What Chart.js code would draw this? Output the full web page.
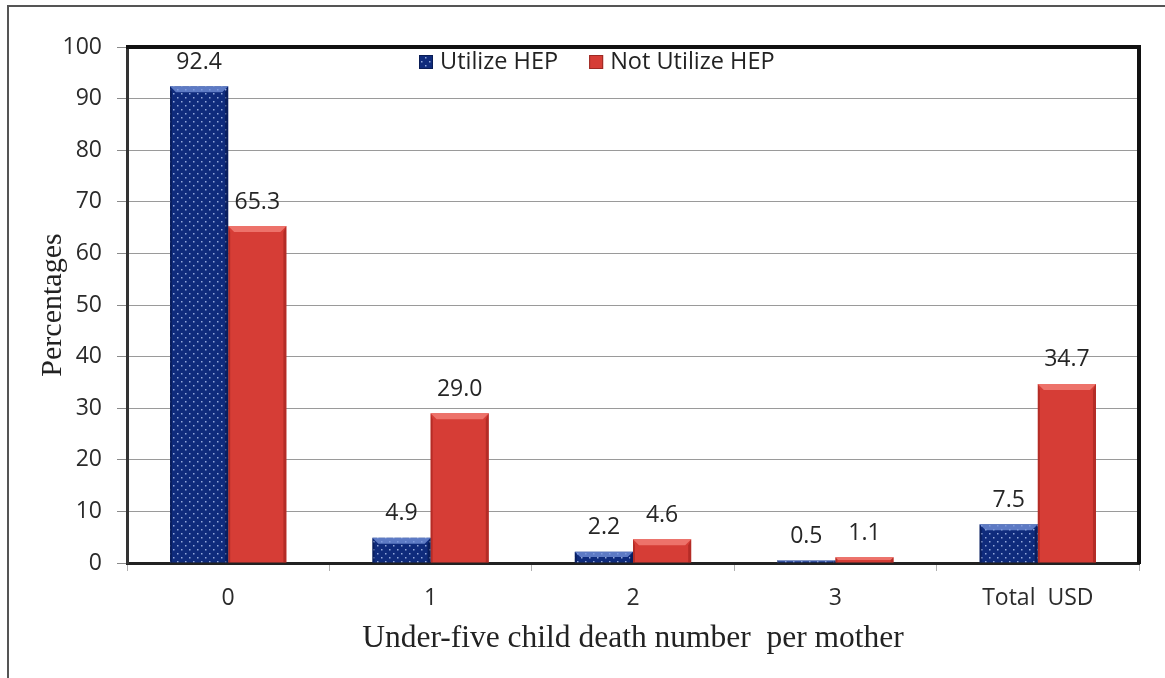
<!DOCTYPE html>
<html>
<head>
<meta charset="utf-8">
<title>Under-five child death number per mother</title>
<script src="https://cdn.jsdelivr.net/npm/chart.js@4.4.1/dist/chart.umd.min.js"></script>
<style>
  html, body { margin: 0; padding: 0; background: #fff; }
  canvas { display: block; }
</style>
</head>
<body>
<canvas id="chart" width="1165" height="678"></canvas>
<script>
// Categories: number of under-five deaths per mother
const categories = ['0', '1', '2', '3', 'Total  USD'];
// Percentages per group
const utilizeHEP = [92.4, 4.9, 2.2, 0.5, 7.5];
const notUtilizeHEP = [65.3, 29.0, 4.6, 1.1, 34.7];
const seriesNames = ['Utilize HEP', 'Not Utilize HEP'];
const yTickValues = [0, 10, 20, 30, 40, 50, 60, 70, 80, 90, 100];

const SANS = '"Open Sans", "Liberation Sans", sans-serif';
const SERIF = '"Liberation Serif", "DejaVu Serif", serif';

// Navy fill with a staggered grid of light dots
function dottedPattern() {
  const c = document.createElement('canvas');
  c.width = 8; c.height = 8;
  const g = c.getContext('2d');
  g.fillStyle = '#0f2b7c';
  g.fillRect(0, 0, 8, 8);
  g.fillStyle = 'rgba(170,190,235,0.85)';
  g.fillRect(1, 1, 1.5, 1.5);
  g.fillRect(5, 5, 1.5, 1.5);
  return g.createPattern(c, 'repeat');
}
const ctx0 = document.getElementById('chart').getContext('2d');
const bluePattern = dottedPattern();
const redFill = '#d63d36';

// Outer frame (top and left edge of the figure)
const framePlugin = {
  id: 'frame',
  beforeDraw(chart) {
    const c = chart.ctx;
    c.save();
    c.fillStyle = '#fff';
    c.fillRect(0, 0, chart.width, chart.height);
    c.strokeStyle = '#555';
    c.lineWidth = 2;
    c.beginPath();
    c.moveTo(8, chart.height);
    c.lineTo(8, 6);
    c.lineTo(chart.width, 6);
    c.stroke();
    c.restore();
  },
  afterDraw(chart) {
    const a = chart.chartArea;
    const c = chart.ctx;
    c.save();
    c.strokeStyle = '#111';
    c.lineWidth = 4;
    c.beginPath();
    c.moveTo(a.left - 1, a.top);
    c.lineTo(a.right, a.top);
    c.lineTo(a.right, a.bottom + 1);
    c.stroke();
    c.restore();
  }
};

// Bevelled top and shaded sides on each bar
const bevelPlugin = {
  id: 'bevel',
  afterDatasetsDraw(chart) {
    const c = chart.ctx;
    chart.data.datasets.forEach((ds, di) => {
      const meta = chart.getDatasetMeta(di);
      const light = di === 0 ? 'rgba(120,150,220,0.75)' : 'rgba(240,120,112,0.9)';
      const dark = di === 0 ? 'rgba(5,20,70,0.55)' : 'rgba(140,25,20,0.45)';
      meta.data.forEach(bar => {
        const left = bar.x - bar.width / 2;
        const right = bar.x + bar.width / 2;
        const top = bar.y;
        const h = bar.base - bar.y;
        const b = Math.min(6, h / 2);
        c.save();
        c.fillStyle = light;
        c.beginPath();
        c.moveTo(left, top);
        c.lineTo(right, top);
        c.lineTo(right - b, top + b);
        c.lineTo(left + b, top + b);
        c.closePath();
        c.fill();
        c.fillStyle = dark;
        c.beginPath();
        c.moveTo(right, top);
        c.lineTo(right, bar.base);
        c.lineTo(right - 3, bar.base);
        c.lineTo(right - 3, top + b);
        c.closePath();
        c.fill();
        c.beginPath();
        c.moveTo(left, top);
        c.lineTo(left, bar.base);
        c.lineTo(left + 2, bar.base);
        c.lineTo(left + 2, top + b);
        c.closePath();
        c.fill();
        c.restore();
      });
    });
  }
};

// Value labels above bars
const valueLabelPlugin = {
  id: 'valueLabels',
  afterDatasetsDraw(chart) {
    const c = chart.ctx;
    c.save();
    c.font = '23px ' + SANS;
    c.fillStyle = '#262626';
    c.textAlign = 'center';
    c.textBaseline = 'middle';
    chart.data.datasets.forEach((ds, di) => {
      const meta = chart.getDatasetMeta(di);
      meta.data.forEach((bar, i) => {
        c.fillText(ds.data[i].toFixed(1), bar.x, bar.y - 24);
      });
    });
    c.restore();
  }
};

// Legend drawn inside the plot area, near the top
const insideLegendPlugin = {
  id: 'insideLegend',
  afterDraw(chart) {
    const a = chart.chartArea;
    const c = chart.ctx;
    c.save();
    c.font = '23.5px ' + SANS;
    c.textBaseline = 'middle';
    let x = a.left + 292;
    const y = a.top + 15;
    chart.data.datasets.forEach((ds, di) => {
      c.fillStyle = ds.backgroundColor;
      c.fillRect(x, y - 7, 14, 14);
      c.strokeStyle = di === 0 ? '#0a1d55' : '#9c2a24';
      c.lineWidth = 1;
      c.strokeRect(x + 0.5, y - 6.5, 13, 13);
      c.fillStyle = '#222';
      c.fillText(ds.label, x + 21, y);
      x += 21 + c.measureText(ds.label).width + 31;
    });
    c.restore();
  }
};

new Chart(ctx0, {
  type: 'bar',
  data: {
    labels: categories,
    datasets: [
      {
        label: seriesNames[0],
        data: utilizeHEP,
        backgroundColor: bluePattern,
        borderWidth: 0
      },
      {
        label: seriesNames[1],
        data: notUtilizeHEP,
        backgroundColor: redFill,
        borderWidth: 0
      }
    ]
  },
  options: {
    responsive: false,
    animation: false,
    devicePixelRatio: 1,
    layout: { padding: { left: 0, top: 47, right: 26, bottom: 0 } },
    datasets: {
      bar: { categoryPercentage: 0.575, barPercentage: 1.0 }
    },
    plugins: {
      legend: { display: false },
      tooltip: { enabled: false }
    },
    scales: {
      x: {
        afterFit(scale) { scale.height = 115; },
        grid: {
          offset: true,
          drawOnChartArea: false,
          drawTicks: true,
          tickLength: 8,
          tickColor: '#b0b0b0',
          tickWidth: 1
        },
        border: { color: '#222', width: 3 },
        ticks: {
          color: '#2b2b2b',
          font: { family: SANS, size: 23 },
          padding: 14
        },
        title: {
          display: true,
          text: 'Under-five child death number  per mother',
          color: '#222',
          font: { family: SERIF, size: 31.5 },
          padding: { top: 0, bottom: 20 }
        }
      },
      y: {
        min: 0,
        max: 100,
        afterFit(scale) { scale.width = 127; },
        afterBuildTicks(scale) {
          scale.ticks = yTickValues.map(v => ({ value: v }));
        },
        grid: {
          color: '#9a9a9a',
          lineWidth: 1,
          drawTicks: true,
          tickLength: 10,
          tickColor: '#8a8a8a'
        },
        border: { color: '#333', width: 3 },
        ticks: {
          color: '#2b2b2b',
          font: { family: SANS, size: 23 },
          padding: 15
        },
        title: {
          display: true,
          text: 'Percentages',
          color: '#222',
          font: { family: SERIF, size: 30 },
          padding: { top: 35, bottom: 0 }
        }
      }
    }
  },
  plugins: [framePlugin, bevelPlugin, valueLabelPlugin, insideLegendPlugin]
});
</script>
</body>
</html>
